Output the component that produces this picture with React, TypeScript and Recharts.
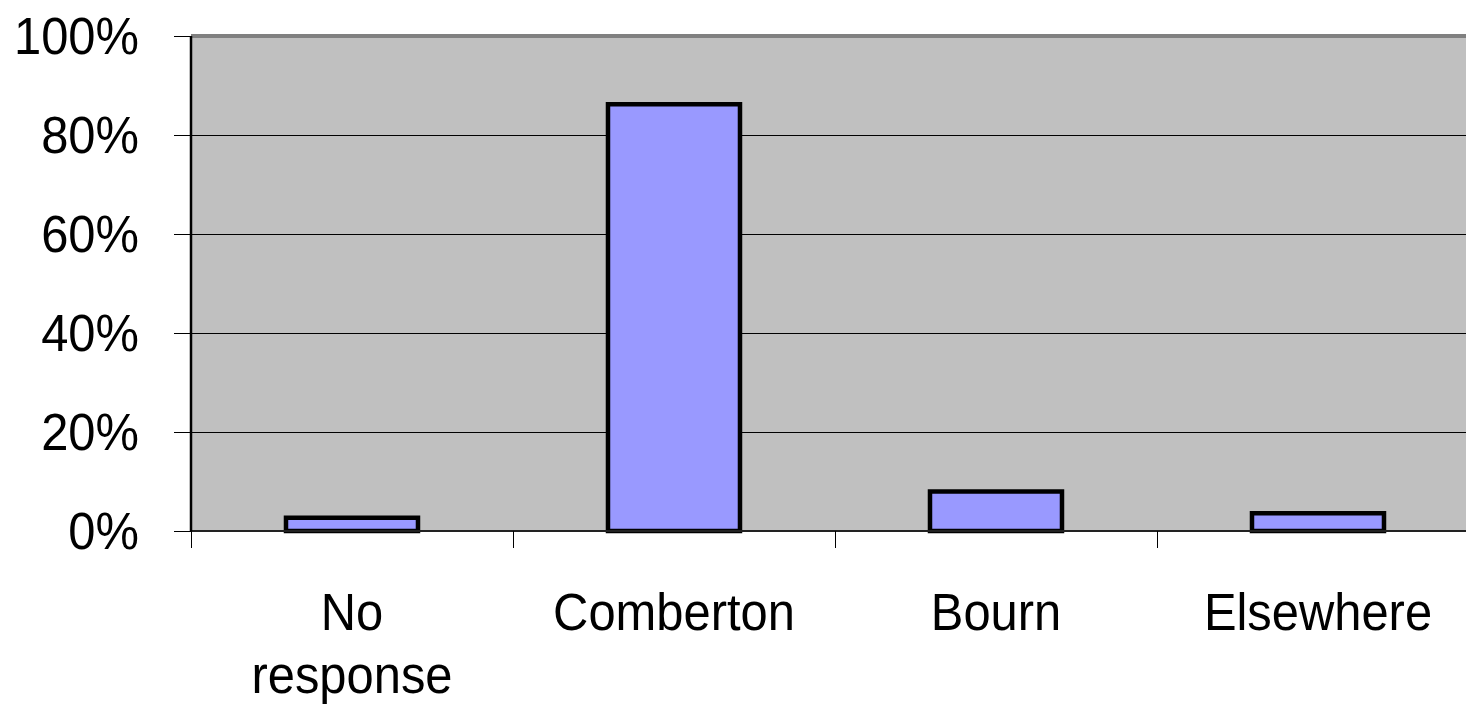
import React from "react";
import { BarChart, Bar, XAxis, YAxis, CartesianGrid, ReferenceLine } from "recharts";

const categories = ["No response", "Comberton", "Bourn", "Elsewhere"];
const values = [2.7, 86.2, 8, 3.6];
const yTicks = [0, 20, 40, 60, 80, 100];

const data = categories.map((name, i) => ({ name, value: values[i] }));

const FONT = "'Liberation Sans', Arial, sans-serif";
const FONT_SIZE = 52;
const SX = 0.94;

const XTick = (props: any) => {
  const { x, y, payload } = props;
  const half = payload && payload.offset ? payload.offset : 161;
  const words = String(payload.value).split(" ");
  return (
    <g>
      <line x1={x - half} y1={y} x2={x - half} y2={y + 17} stroke="#000" strokeWidth={1} shapeRendering="crispEdges" />
      <line x1={x + half} y1={y} x2={x + half} y2={y + 17} stroke="#000" strokeWidth={1} shapeRendering="crispEdges" />
      {words.map((w, i) => (
        <text
          key={i}
          x={x}
          y={y + 99 + i * 63}
          textAnchor="middle"
          fontFamily={FONT}
          fontSize={FONT_SIZE}
          fill="#000"
          transform={`translate(${x},0) scale(${SX},1) translate(${-x},0)`}
        >
          {w}
        </text>
      ))}
    </g>
  );
};

const YTick = (props: any) => {
  const { x, y, payload } = props;
  return (
    <text
      x={x}
      y={y}
      dy="0.355em"
      textAnchor="end"
      fontFamily={FONT}
      fontSize={FONT_SIZE}
      fill="#000"
      transform={`translate(${x},0) scale(${SX},1) translate(${-x},0)`}
    >
      {`${payload.value}%`}
    </text>
  );
};

export default function App() {
  return (
    <div style={{ position: "absolute", left: 0, top: 0, width: 1466, height: 705, overflow: "hidden", background: "#fff" }}>
      <BarChart
        width={1480}
        height={705}
        data={data}
        margin={{ top: 36, right: 1, bottom: 0, left: 0 }}
        barCategoryGap="29.5%"
      >
        <CartesianGrid horizontal={true} vertical={false} stroke="#000" strokeWidth={1} fill="#C0C0C0" fillOpacity={1} shapeRendering="crispEdges" />
        <XAxis
          dataKey="name"
          height={174}
          tickLine={false}
          tickSize={0}
          tickMargin={0}
          axisLine={{ stroke: "#222", strokeWidth: 2 }}
          tick={<XTick />}
          interval={0}
        />
        <YAxis
          width={191}
          domain={[0, 100]}
          ticks={yTicks}
          interval={0}
          tickSize={17}
          tickMargin={35}
          tickLine={{ stroke: "#000", strokeWidth: 1, shapeRendering: "crispEdges" }}
          axisLine={{ stroke: "#000", strokeWidth: 2.5 }}
          tick={<YTick />}
        />
        <ReferenceLine y={100} stroke="#808080" strokeWidth={4} ifOverflow="extendDomain" />
        <Bar dataKey="value" fill="#9999FF" stroke="#000" strokeWidth={4.5} isAnimationActive={false} />
      </BarChart>
    </div>
  );
}
